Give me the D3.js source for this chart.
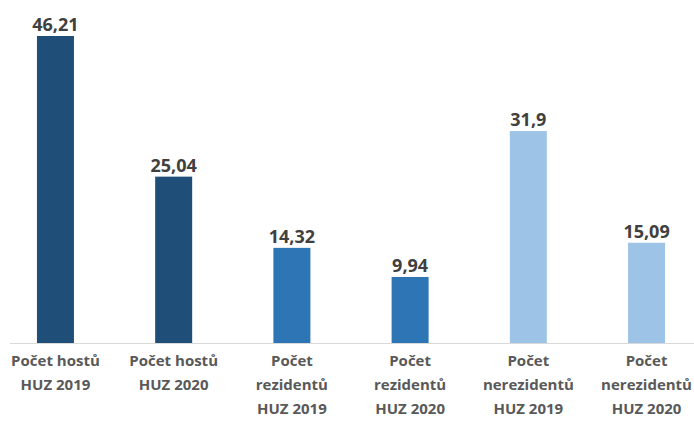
<!DOCTYPE html>
<html>
<head>
<meta charset="utf-8">
<script src="https://cdn.jsdelivr.net/npm/d3@7"></script>
<style>
  body { margin: 0; background: #fff; }
  text { font-family: "Open Sans", sans-serif; font-weight: bold; }
</style>
</head>
<body>
<div id="chart"></div>
<script>
// data
var categories = [
  ["Počet hostů", "HUZ 2019"],
  ["Počet hostů", "HUZ 2020"],
  ["Počet", "rezidentů", "HUZ 2019"],
  ["Počet", "rezidentů", "HUZ 2020"],
  ["Počet", "nerezidentů", "HUZ 2019"],
  ["Počet", "nerezidentů", "HUZ 2020"]
];
var values = [46.21, 25.04, 14.32, 9.94, 31.9, 15.09];
var valueLabels = ["46,21", "25,04", "14,32", "9,94", "31,9", "15,09"];
var barColors = ["#1F4E79", "#1F4E79", "#2E75B6", "#2E75B6", "#9DC3E6", "#9DC3E6"];

var svgWidth = 694;
var svgHeight = 421;
var baseline = 343;

var svg = d3.select("#chart")
  .append("svg")
  .attr("width", svgWidth)
  .attr("height", svgHeight);

var idx = d3.range(values.length);

// x scale - band centres ~118px apart
var xScale = d3.scaleBand()
  .domain(idx)
  .range([-3.6, 705.6])
  .paddingInner(0.687)
  .paddingOuter(0.343);

var yScale = d3.scaleLinear()
  .domain([0, 46.21])
  .range([baseline, 36]);

// axis line
svg.append("line")
  .attr("x1", 10)
  .attr("x2", 694)
  .attr("y1", baseline + 0.5)
  .attr("y2", baseline + 0.5)
  .attr("stroke", "#d9d9d9")
  .attr("stroke-width", 1);

// bars
svg.selectAll("rect.bar")
  .data(idx)
  .enter()
  .append("rect")
  .attr("class", "bar")
  .attr("x", i => xScale(i))
  .attr("width", xScale.bandwidth())
  .attr("y", i => yScale(values[i]))
  .attr("height", i => baseline - yScale(values[i]))
  .attr("fill", i => barColors[i]);

// value labels
svg.selectAll("text.val")
  .data(idx)
  .enter()
  .append("text")
  .attr("class", "val")
  .attr("x", i => xScale(i) + xScale.bandwidth() / 2)
  .attr("y", i => yScale(values[i]) - 5)
  .attr("text-anchor", "middle")
  .attr("font-size", 18)
  .attr("fill", "#404040")
  .text(i => valueLabels[i]);

// category labels
var catGroup = svg.selectAll("text.cat")
  .data(idx)
  .enter()
  .append("text")
  .attr("class", "cat")
  .attr("text-anchor", "middle")
  .attr("font-size", 15)
  .attr("fill", "#595959");

catGroup.each(function(i) {
  var cx = xScale(i) + xScale.bandwidth() / 2;
  d3.select(this).selectAll("tspan")
    .data(categories[i])
    .enter()
    .append("tspan")
    .attr("x", cx)
    .attr("y", (d, j) => 366 + j * 24)
    .text(d => d);
});
</script>
</body>
</html>
